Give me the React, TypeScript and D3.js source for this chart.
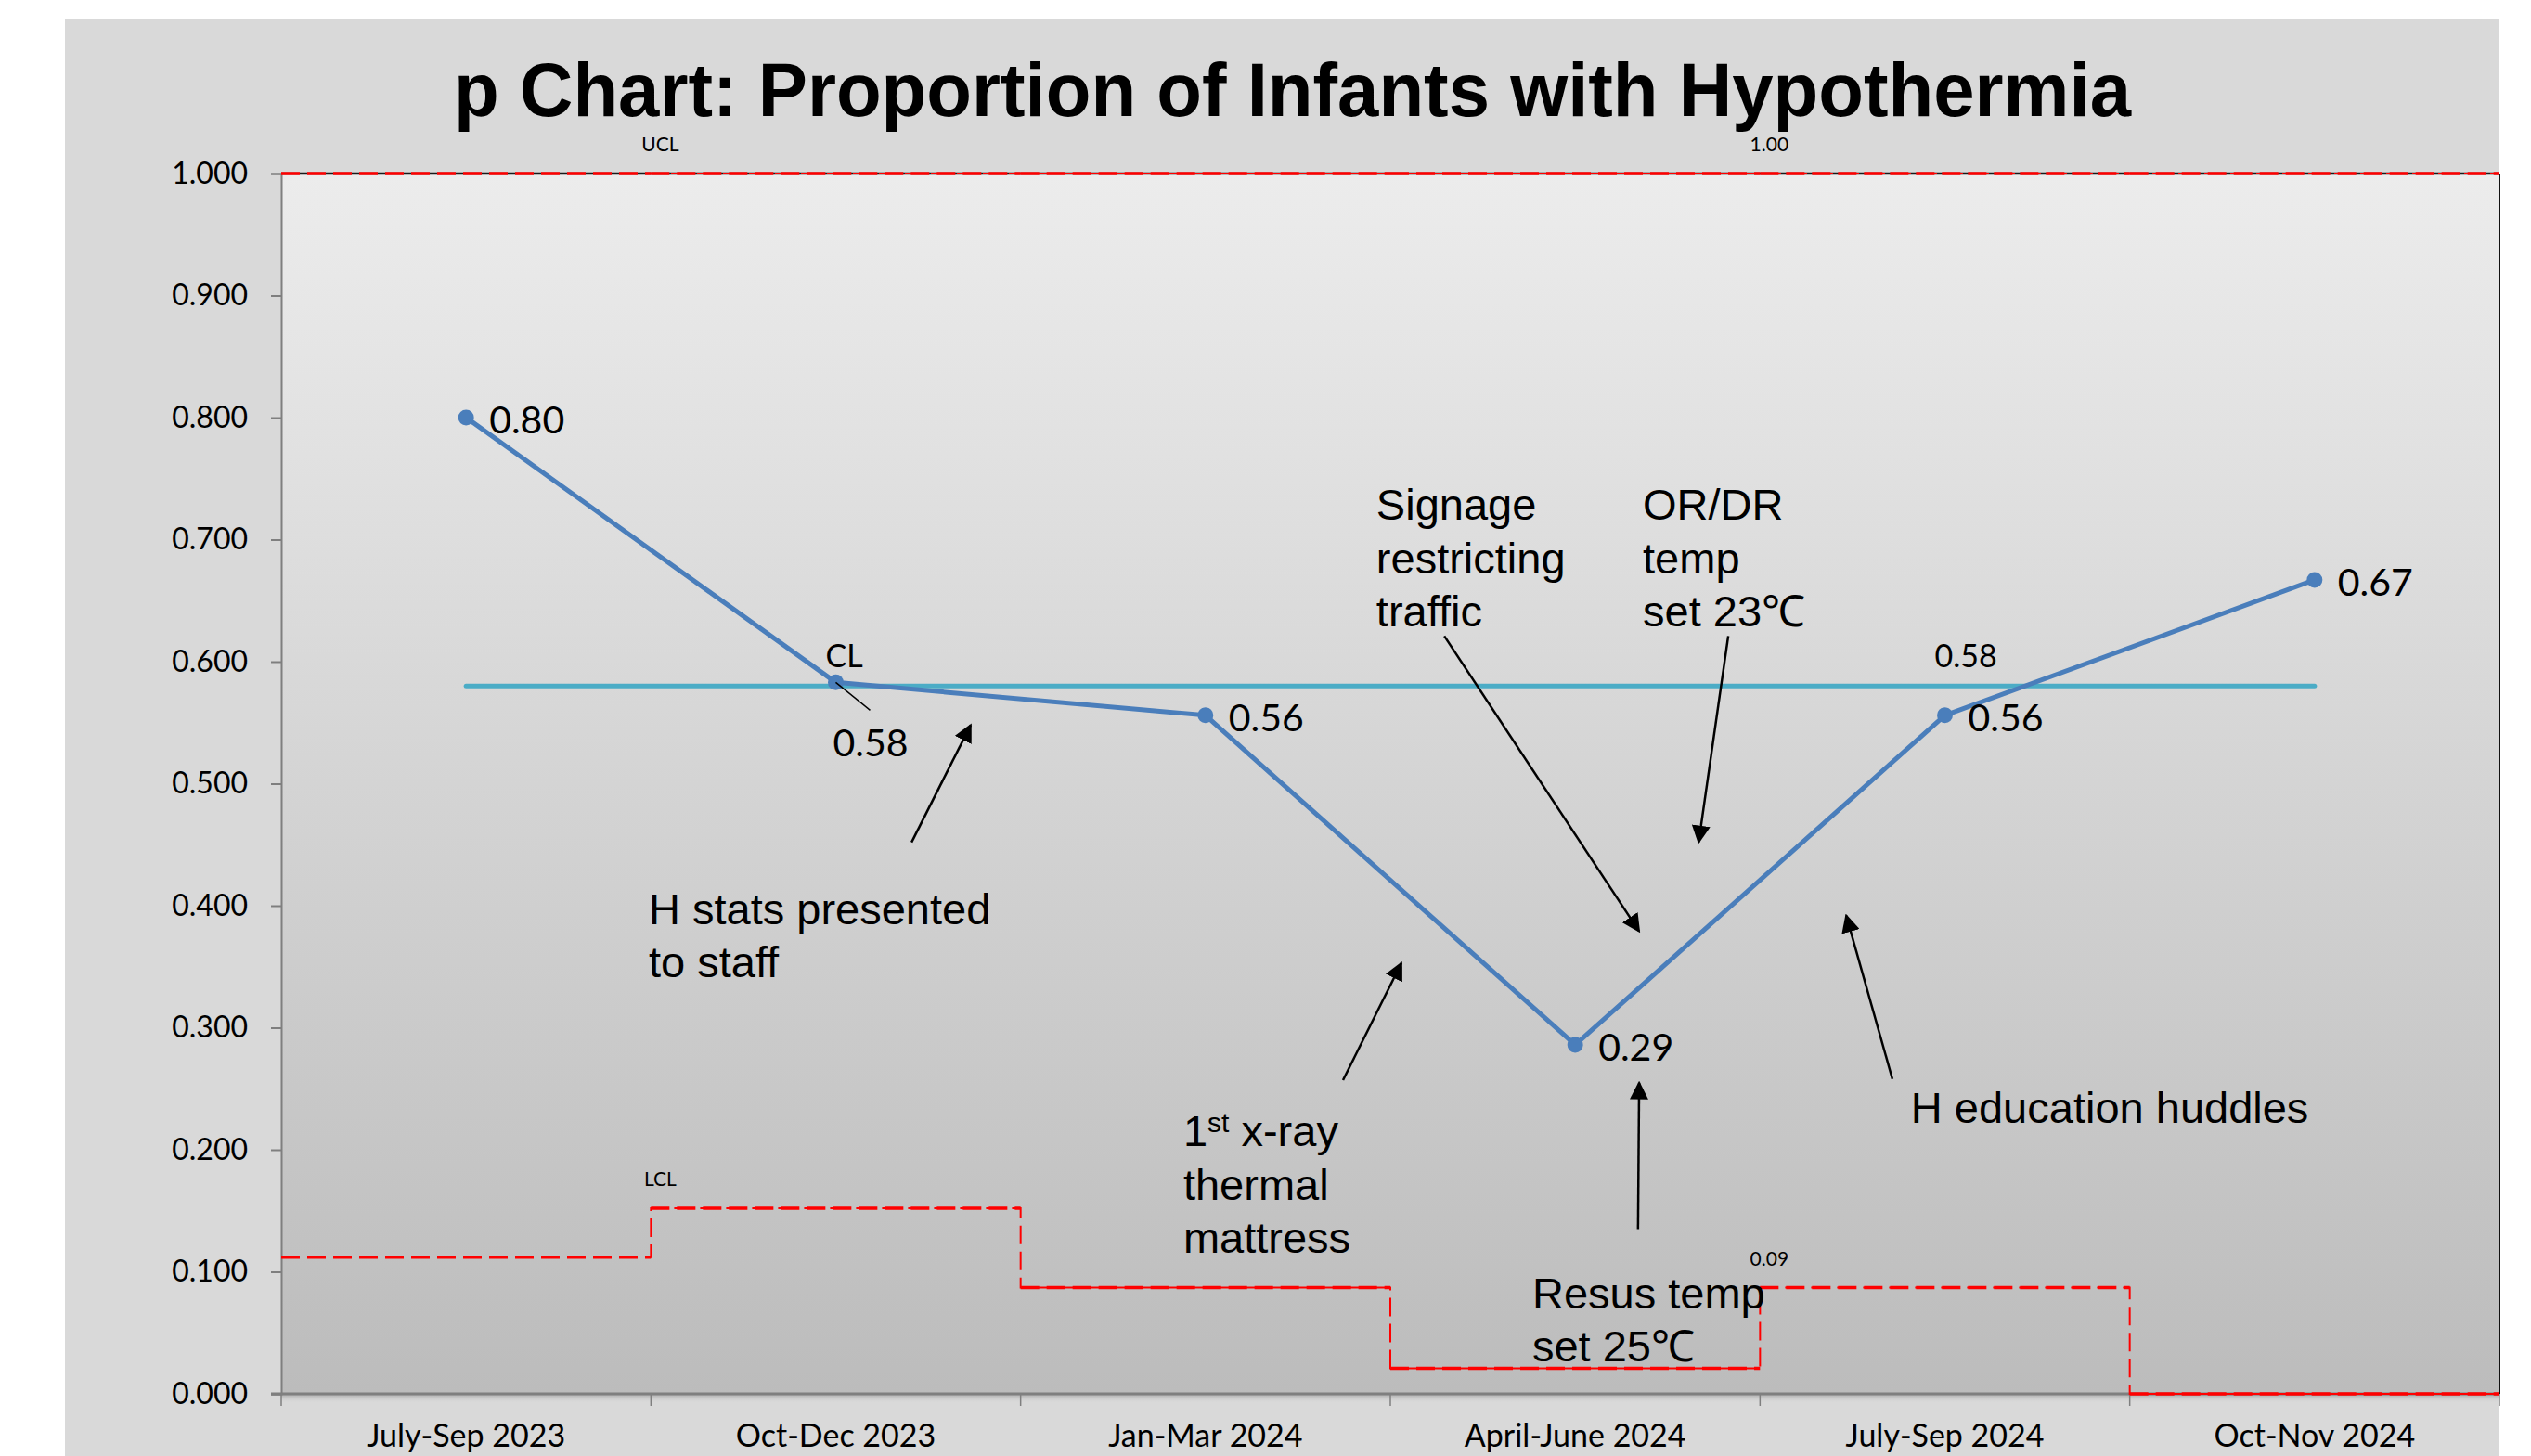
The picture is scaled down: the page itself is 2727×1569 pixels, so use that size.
import React, { useEffect, useRef } from "react";
import * as d3 from "d3";

const categories = ["July-Sep 2023", "Oct-Dec 2023", "Jan-Mar 2024", "April-June 2024", "July-Sep 2024", "Oct-Nov 2024"];
const proportion = [0.8, 0.583, 0.556, 0.286, 0.556, 0.667];
const pointLabels = ["0.80", "0.58", "0.56", "0.29", "0.56", "0.67"];
const centerLine = [0.58, 0.58, 0.58, 0.58, 0.58, 0.58];
const ucl = [1, 1, 1, 1, 1, 1];
const lcl = [0.112, 0.152, 0.087, 0.021, 0.087, 0.0];
const yTicks = [0, 0.1, 0.2, 0.3, 0.4, 0.5, 0.6, 0.7, 0.8, 0.9, 1.0];

// notes: text lines at (idx, value) plus an arrow from -> to, in data space
const notes = [
  { lines: ["H stats presented", "to staff"], at: [0.494, 0.385], from: [1.205, 0.452], to: [1.365, 0.548] },
  { lines: ["Signage", "restricting", "traffic"], at: [2.462, 0.716], from: [2.646, 0.621], to: [3.173, 0.379] },
  { lines: ["OR/DR", "temp", "set 23℃"], at: [3.183, 0.716], from: [3.414, 0.621], to: [3.334, 0.452] },
  { lines: ["1st x-ray", "thermal", "mattress"], at: [1.94, 0.203], from: [2.372, 0.257], to: [2.53, 0.353] },
  { lines: ["Resus temp", "set 25℃"], at: [2.884, 0.07], from: [3.17, 0.135], to: [3.173, 0.255] },
  { lines: ["H education huddles"], at: [3.908, 0.222], from: [3.858, 0.258], to: [3.733, 0.392] },
];

const W = 2727;
const H = 1569;

export default function App() {
  const svgRef = useRef<SVGSVGElement | null>(null);

  useEffect(() => {
    document.body.style.margin = "0";
    document.body.style.overflow = "hidden";

    const svg = d3.select(svgRef.current);
    svg.selectAll("*").remove();

    const left = 303, right = 2693, top = 187, bottom = 1502;
    const x = d3.scaleBand<string>().domain(categories).range([left, right]).paddingInner(0).paddingOuter(0);
    const xi = d3.scaleLinear().domain([-0.5, categories.length - 0.5]).range([left, right]);
    const y = d3.scaleLinear().domain([0, 1]).range([bottom, top]);
    const cx = (i: number) => (x(categories[i]) as number) + x.bandwidth() / 2;

    const defs = svg.append("defs");
    const grad = defs.append("linearGradient").attr("id", "plotbg").attr("x1", 0).attr("y1", 0).attr("x2", 0).attr("y2", 1);
    grad.append("stop").attr("offset", "0%").attr("stop-color", "#ececec");
    grad.append("stop").attr("offset", "100%").attr("stop-color", "#bcbcbc");
    const sh = defs.append("linearGradient").attr("id", "shadow").attr("x1", 0).attr("y1", 0).attr("x2", 0).attr("y2", 1);
    sh.append("stop").attr("offset", "0%").attr("stop-color", "#9a9a9a").attr("stop-opacity", 0.8);
    sh.append("stop").attr("offset", "100%").attr("stop-color", "#d9d9d9").attr("stop-opacity", 0);
    defs.append("marker")
      .attr("id", "arrow")
      .attr("viewBox", "0 0 10 10")
      .attr("refX", 9).attr("refY", 5)
      .attr("markerWidth", 8).attr("markerHeight", 8)
      .attr("markerUnits", "strokeWidth")
      .attr("orient", "auto")
      .append("path").attr("d", "M0,0 L10,5 L0,10 z").attr("fill", "#000");

    // page + panel
    svg.append("rect").attr("width", W).attr("height", H).attr("fill", "#ffffff");
    svg.append("rect").attr("x", 70).attr("y", 21).attr("width", right - 70).attr("height", H).attr("fill", "#d9d9d9");

    // plot area
    svg.append("rect").attr("x", left).attr("y", bottom).attr("width", right - left).attr("height", 10).attr("fill", "url(#shadow)");
    svg.append("rect").attr("x", left).attr("y", top).attr("width", right - left).attr("height", bottom - top).attr("fill", "url(#plotbg)");
    svg.append("line").attr("x1", left).attr("x2", right).attr("y1", top).attr("y2", top).attr("stroke", "#1a1a1a").attr("stroke-width", 2.5);
    svg.append("line").attr("x1", right).attr("x2", right).attr("y1", top).attr("y2", bottom).attr("stroke", "#111").attr("stroke-width", 2);

    // title
    svg.append("text")
      .attr("x", 489).attr("y", 125)
      .attr("textLength", 1807).attr("lengthAdjust", "spacingAndGlyphs")
      .attr("font-family", "Liberation Sans, Arial, sans-serif")
      .attr("font-weight", "bold").attr("font-size", 81).attr("fill", "#000")
      .text("p Chart: Proportion of Infants with Hypothermia");

    // y axis
    const gy = svg.append("g").attr("transform", `translate(${left},0)`)
      .call(d3.axisLeft(y).tickValues(yTicks).tickFormat(d3.format(".3f")).tickSize(11).tickPadding(25));
    gy.select(".domain").attr("stroke", "#7f7f7f").attr("stroke-width", 2);
    gy.selectAll(".tick line").attr("stroke", "#7f7f7f").attr("stroke-width", 2);
    gy.selectAll("text").attr("font-family", "Lato, sans-serif").attr("font-size", 32).attr("fill", "#000");

    // x axis
    const bounds = d3.range(categories.length + 1).map((i) => xi(i - 0.5));
    svg.append("g").selectAll("line").data(bounds).enter().append("line")
      .attr("x1", (d) => d).attr("x2", (d) => d).attr("y1", bottom).attr("y2", bottom + 13)
      .attr("stroke", "#7f7f7f").attr("stroke-width", 1.5);
    svg.append("line").attr("x1", left - 11).attr("x2", right).attr("y1", bottom).attr("y2", bottom)
      .attr("stroke", "#7f7f7f").attr("stroke-width", 3);
    svg.append("g").selectAll("text").data(categories).enter().append("text")
      .attr("x", (d, i) => cx(i)).attr("y", 1559).attr("text-anchor", "middle")
      .attr("font-family", "Lato, sans-serif").attr("font-size", 34).attr("fill", "#000")
      .text((d) => d);

    // control limits as steps
    const stepLine = d3.line<number>().x((d, i) => xi(i - 0.5)).y((d) => y(d)).curve(d3.curveStepAfter);
    const drawStep = (vals: number[]) => {
      const pts = [...vals, vals[vals.length - 1]];
      svg.append("path").datum(pts).attr("d", stepLine).attr("fill", "none")
        .attr("stroke", "#ff0000").attr("stroke-width", 2).attr("stroke-dasharray", "20,8");
      svg.append("g").selectAll("line").data(vals).enter().append("line")
        .attr("x1", (d, i) => xi(i - 0.5)).attr("x2", (d, i) => xi(i + 0.5))
        .attr("y1", (d) => y(d)).attr("y2", (d) => y(d))
        .attr("stroke", "#ff0000").attr("stroke-width", 3.5).attr("stroke-dasharray", "20,8");
    };
    drawStep(ucl);
    drawStep(lcl);

    const small = (txt: string, i: number, v: number) =>
      svg.append("text").attr("x", xi(i - 0.5) + 10).attr("y", y(v) - 24).attr("text-anchor", "middle")
        .attr("font-family", "Lato, sans-serif").attr("font-size", 21).attr("fill", "#000").text(txt);
    small("UCL", 1, ucl[1]);
    small("1.00", 4, ucl[4]);
    small("LCL", 1, lcl[1]);
    small("0.09", 4, lcl[4]);

    // centre line
    svg.append("path").datum(centerLine)
      .attr("d", d3.line<number>().x((d, i) => cx(i)).y((d) => y(d)))
      .attr("fill", "none").attr("stroke", "#4bacc6").attr("stroke-width", 5).attr("stroke-linecap", "round");
    [1, 4].forEach((i, k) => {
      svg.append("text").attr("x", xi(i) - 11).attr("y", y(centerLine[i]) - 20)
        .attr("font-family", "Lato, sans-serif").attr("font-size", 34).attr("fill", "#000")
        .text(k === 0 ? "CL" : d3.format(".2f")(centerLine[i]));
    });

    // proportion series
    svg.append("path").datum(proportion)
      .attr("d", d3.line<number>().x((d, i) => cx(i)).y((d) => y(d)))
      .attr("fill", "none").attr("stroke", "#4a7ebb").attr("stroke-width", 5).attr("stroke-linejoin", "round");
    svg.append("g").selectAll("circle").data(proportion).enter().append("circle")
      .attr("cx", (d, i) => cx(i)).attr("cy", (d) => y(d)).attr("r", 8.5).attr("fill", "#4a7ebb");

    // leader line for the second point label
    svg.append("line")
      .attr("x1", cx(1)).attr("y1", y(proportion[1]))
      .attr("x2", cx(1) + 37).attr("y2", y(proportion[1]) + 30)
      .attr("stroke", "#000").attr("stroke-width", 1.5);
    svg.append("g").selectAll("text").data(proportion).enter().append("text")
      .attr("x", (d, i) => (i === 1 ? cx(i) - 3 : cx(i) + 25))
      .attr("y", (d, i) => (i === 1 ? y(d) + 80 : y(d) + 17))
      .attr("font-family", "Lato, sans-serif").attr("font-size", 41).attr("fill", "#000")
      .text((d, i) => pointLabels[i]);

    // annotations
    notes.forEach((n) => {
      svg.append("line")
        .attr("x1", xi(n.from[0])).attr("y1", y(n.from[1]))
        .attr("x2", xi(n.to[0])).attr("y2", y(n.to[1]))
        .attr("stroke", "#000").attr("stroke-width", 2.5).attr("marker-end", "url(#arrow)");
      const t = svg.append("text")
        .attr("font-family", "Liberation Sans, Arial, sans-serif").attr("font-size", 47).attr("fill", "#000");
      n.lines.forEach((ln, k) => {
        const lx = xi(n.at[0]);
        const ly = y(n.at[1]) + k * 57.5;
        if (ln.startsWith("1st")) {
          const row = t.append("tspan").attr("x", lx).attr("y", ly);
          row.text("1");
          t.append("tspan").attr("font-size", 30).attr("dy", -15).text("st");
          t.append("tspan").attr("dy", 15).text(" x-ray");
        } else {
          t.append("tspan").attr("x", lx).attr("y", ly).text(ln);
        }
      });
    });
  }, []);

  return (
    <div style={{ width: W, height: H, position: "relative" }}>
      <svg ref={svgRef} width={W} height={H} viewBox={`0 0 ${W} ${H}`} style={{ display: "block" }} />
    </div>
  );
}
